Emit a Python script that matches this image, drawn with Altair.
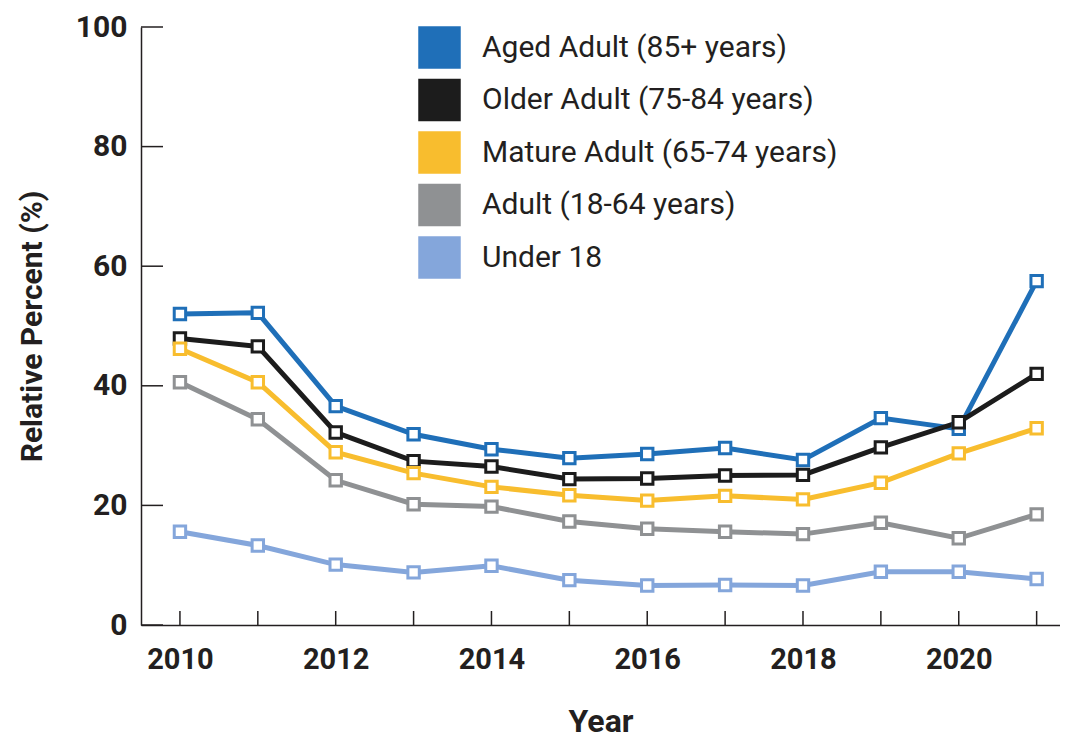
import altair as alt
import pandas as pd

years = [2010, 2011, 2012, 2013, 2014, 2015, 2016, 2017, 2018, 2019, 2020, 2021]
series_names = [
    "Aged Adult (85+ years)",
    "Older Adult (75-84 years)",
    "Mature Adult (65-74 years)",
    "Adult (18-64 years)",
    "Under 18",
]
aged = [52.0, 52.2, 36.6, 31.9, 29.4, 27.9, 28.6, 29.6, 27.6, 34.6, 32.8, 57.5]
older = [47.9, 46.6, 32.2, 27.4, 26.5, 24.4, 24.5, 25.0, 25.1, 29.7, 33.9, 42.0]
mature = [46.2, 40.6, 28.9, 25.4, 23.1, 21.7, 20.8, 21.6, 21.0, 23.8, 28.7, 32.9]
adult = [40.6, 34.4, 24.2, 20.2, 19.8, 17.3, 16.1, 15.6, 15.2, 17.1, 14.5, 18.5]
under18 = [15.6, 13.3, 10.1, 8.8, 9.9, 7.5, 6.6, 6.7, 6.6, 8.9, 8.9, 7.7]
colors = ["#1f6fb8", "#1c1c1c", "#f8bd2e", "#8f9193", "#84a6db"]
y_tick_values = [0, 20, 40, 60, 80, 100]
x_label_values = [2010, 2012, 2014, 2016, 2018, 2020]

all_series = [aged, older, mature, adult, under18]
rows = []
for i, (name, vals) in enumerate(zip(series_names, all_series)):
    for yr, v in zip(years, vals):
        rows.append({"year": yr, "value": v, "series": name, "ord": i})
df = pd.DataFrame(rows)

FONT = "Roboto"
INK = "#231f20"

xscale = alt.Scale(domain=[2009.5, 2021.3], nice=False, zero=False)
yscale = alt.Scale(domain=[0, 100], nice=False)
cscale = alt.Scale(domain=series_names, range=colors)

x_axis = alt.Axis(values=x_label_values, format="d", ticks=False, grid=False,
                  title="Year", labelPadding=20, titlePadding=32,
                  labelFontSize=29, titleFontSize=32)
y_axis = alt.Axis(values=y_tick_values, ticks=False, grid=False,
                  title="Relative Percent (%)", labelPadding=14, titlePadding=28,
                  labelFontSize=30, titleFontSize=30)

base = alt.Chart(df)

legend_layer = base.mark_square(size=1, opacity=1).encode(
    x=alt.X("year:Q", scale=xscale, axis=x_axis),
    y=alt.Y("value:Q", scale=yscale, axis=y_axis),
    fill=alt.Fill("series:N", scale=cscale, sort=series_names,
                  legend=alt.Legend(title=None, orient="none", legendX=277, legendY=-1,
                                    symbolType="square", symbolSize=1806,
                                    symbolStrokeWidth=0, symbolOpacity=1,
                                    labelFont=FONT, labelFontSize=30, labelColor=INK,
                                    labelOffset=21, rowPadding=9.5, labelLimit=600)),
)

lines = base.mark_line(strokeWidth=5).encode(
    x=alt.X("year:Q", scale=xscale, axis=x_axis),
    y=alt.Y("value:Q", scale=yscale, axis=y_axis),
    stroke=alt.Stroke("series:N", scale=cscale, legend=None),
    detail="series:N",
)

points = base.mark_point(shape="square", filled=True, fill="white", size=130,
                         strokeWidth=3, opacity=1).encode(
    x=alt.X("year:Q", scale=xscale, axis=x_axis),
    y=alt.Y("value:Q", scale=yscale, axis=y_axis),
    stroke=alt.Stroke("series:N", scale=cscale, legend=None),
    order=alt.Order("ord:Q"),
)

ytick_df = pd.DataFrame({"value": y_tick_values})
yticks = alt.Chart(ytick_df).mark_rule(color=INK, strokeWidth=1.5).encode(
    y=alt.Y("value:Q", scale=yscale, axis=y_axis),
    x=alt.value(0), x2=alt.value(22),
)

xtick_df = pd.DataFrame({"year": years})
xticks = alt.Chart(xtick_df).mark_rule(color=INK, strokeWidth=1.5).encode(
    x=alt.X("year:Q", scale=xscale, axis=x_axis),
    y=alt.value(584), y2=alt.value(598),
)

chart = alt.layer(legend_layer, yticks, xticks, lines, points).properties(
    width=919, height=598,
    autosize=alt.AutoSizeParams(type="none"),
    padding={"left": 133, "top": 19, "right": 0, "bottom": 116},
).configure_view(stroke=None).configure_axis(
    domainColor=INK, domainWidth=1.5,
    labelFont=FONT, labelFontWeight="bold", labelColor=INK,
    titleFont=FONT, titleFontWeight="bold", titleColor=INK,
).configure_legend(labelFont=FONT)

chart.save("out.html", embed_options={"renderer": "svg", "actions": False})
